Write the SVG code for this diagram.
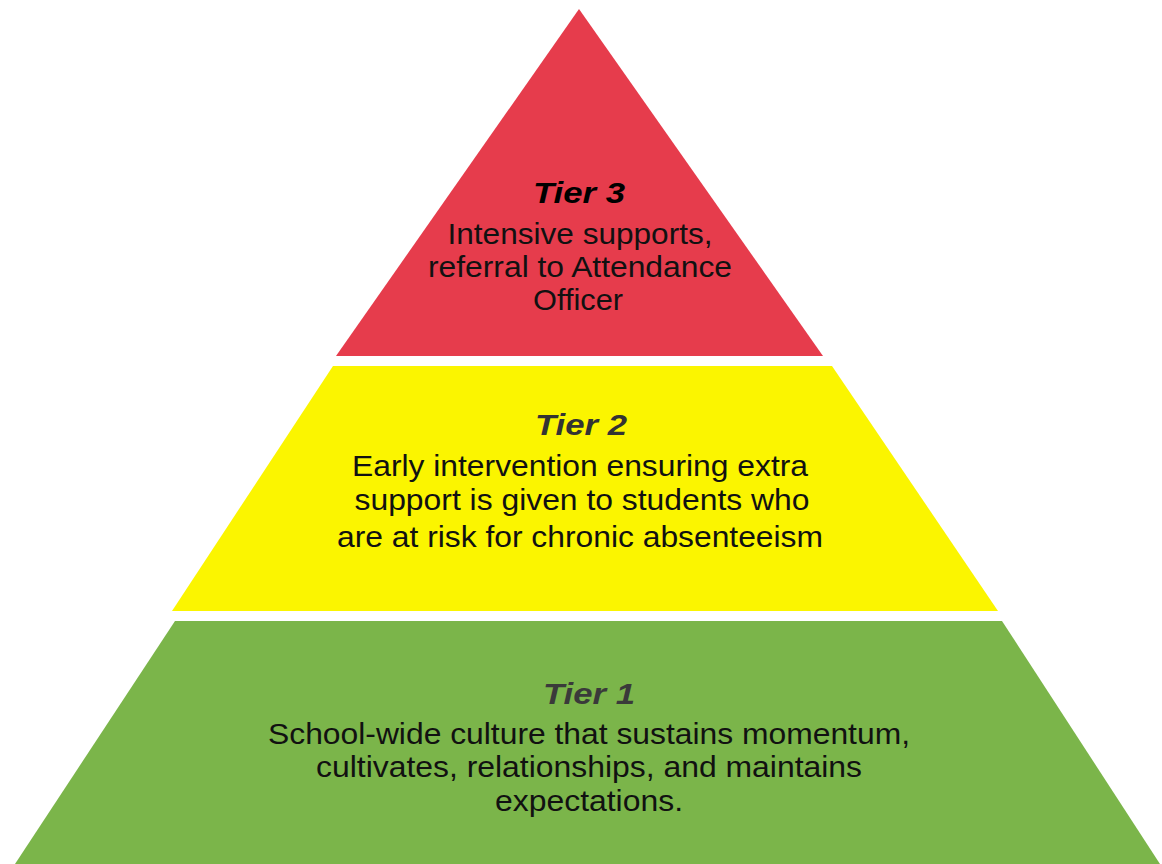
<svg xmlns="http://www.w3.org/2000/svg" width="1162" height="864" viewBox="0 0 1162 864">
<style>
.title{font-family:"Liberation Sans",Arial,sans-serif;font-weight:bold;font-style:italic;font-size:30px;text-anchor:middle}
.body{font-family:"Liberation Sans",Arial,sans-serif;font-size:29px;text-anchor:middle;fill:#111}
</style>
<rect width="1162" height="864" fill="#ffffff"/>
<g id="tier3">
<polygon points="579,9 823,356 336,356" fill="#E63C4C"/>
<text class="title" x="579" y="203" textLength="92" lengthAdjust="spacingAndGlyphs" fill="#000">Tier 3</text>
<text class="body" x="580" y="244" textLength="265" lengthAdjust="spacingAndGlyphs">Intensive supports,</text>
<text class="body" x="580" y="277" textLength="304" lengthAdjust="spacingAndGlyphs">referral to Attendance</text>
<text class="body" x="578" y="310" textLength="90" lengthAdjust="spacingAndGlyphs">Officer</text>
</g>
<g id="tier2">
<polygon points="333,366 832,366 998,611 172,611" fill="#FBF500"/>
<text class="title" x="581" y="435" textLength="92" lengthAdjust="spacingAndGlyphs" fill="#333">Tier 2</text>
<text class="body" x="580" y="476" textLength="456" lengthAdjust="spacingAndGlyphs">Early intervention ensuring extra</text>
<text class="body" x="582" y="510" textLength="455" lengthAdjust="spacingAndGlyphs">support is given to students who</text>
<text class="body" x="580" y="547" textLength="486" lengthAdjust="spacingAndGlyphs">are at risk for chronic absenteeism</text>
</g>
<g id="tier1">
<polygon points="175,621 1002,621 1160,864 15,864" fill="#7BB54A"/>
<text class="title" x="589" y="704" textLength="92" lengthAdjust="spacingAndGlyphs" fill="#3a3a3a">Tier 1</text>
<text class="body" x="589" y="744" textLength="642" lengthAdjust="spacingAndGlyphs">School-wide culture that sustains momentum,</text>
<text class="body" x="589" y="777" textLength="546" lengthAdjust="spacingAndGlyphs">cultivates, relationships, and maintains</text>
<text class="body" x="589" y="811" textLength="188" lengthAdjust="spacingAndGlyphs">expectations.</text>
</g>
<g id="connectors"></g>
</svg>
